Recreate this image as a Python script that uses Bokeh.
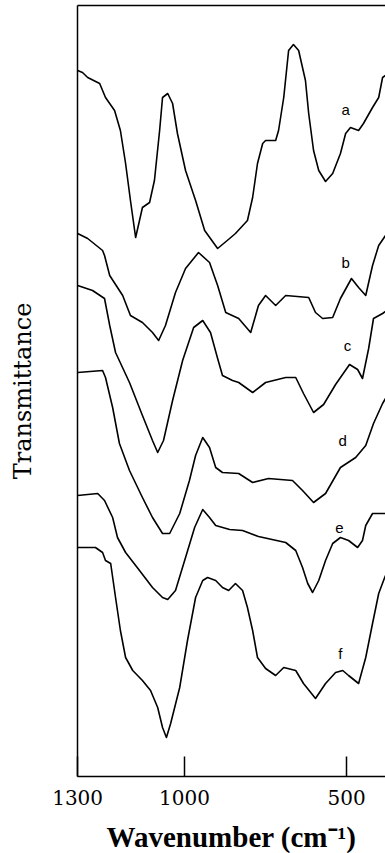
from bokeh.plotting import figure
from bokeh.models import Range1d, FixedTicker, ColumnDataSource, LinearAxis
from bokeh.core.properties import value
from bokeh.embed import file_html
from bokeh.resources import INLINE

# IR spectra, transmittance in arbitrary (stacked) units
wn_a = [1330, 1315, 1299, 1262, 1244, 1216, 1198, 1182, 1167, 1151, 1130, 1108, 1093, 1077, 1068, 1052, 1037,
        1022, 997, 966, 938, 898, 861, 843, 806, 790, 775, 759, 750, 719, 710, 694, 679, 664, 648, 627, 617,
        602, 586, 565, 543, 519, 503, 488, 463, 448, 420, 401, 389, 380]
t_a = [706, 704, 699, 693, 679, 666, 646, 613, 576, 539, 569, 574, 596, 646, 679, 683, 673,
       643, 606, 576, 546, 528, 538, 543, 556, 579, 613, 633, 636, 636, 646, 679, 726, 732, 726, 696, 663,
       626, 606, 595, 603, 623, 643, 649, 646, 653, 669, 679, 699, 701]

wn_b = [1330, 1299, 1253, 1247, 1231, 1191, 1167, 1130, 1099, 1080, 1059, 1028, 997, 957, 923, 898, 873,
        833, 796, 772, 750, 719, 688, 617, 596, 574, 543, 519, 485, 463, 441, 420, 401, 380]
t_b = [543, 538, 526, 521, 501, 481, 461, 454, 444, 436, 451, 484, 508, 524, 514, 491, 464,
       458, 444, 471, 481, 471, 481, 479, 464, 458, 459, 478, 498, 489, 481, 511, 531, 541]

wn_c = [1330, 1284, 1247, 1231, 1213, 1170, 1130, 1099, 1083, 1065, 1037, 1006, 972, 944, 920, 898, 883,
        852, 833, 790, 750, 688, 657, 633, 602, 571, 534, 491, 466, 451, 432, 417, 389, 380]
t_c = [491, 486, 478, 451, 424, 394, 361, 336, 324, 336, 376, 416, 449, 456, 444, 418, 401,
       396, 394, 384, 394, 399, 399, 383, 364, 372, 392, 412, 407, 398, 428, 458, 463, 465]

wn_d = [1330, 1253, 1244, 1222, 1201, 1170, 1130, 1099, 1068, 1046, 1015, 985, 966, 944, 923, 904, 883,
        833, 790, 741, 667, 636, 602, 565, 519, 472, 441, 417, 389, 380]
t_d = [404, 406, 399, 369, 333, 306, 279, 259, 243, 243, 263, 296, 321, 339, 329, 309, 304,
       303, 294, 298, 296, 286, 274, 283, 309, 319, 331, 353, 373, 378]

wn_e = [1330, 1268, 1247, 1222, 1207, 1182, 1139, 1099, 1068, 1052, 1028, 997, 969, 944, 923, 904, 861,
        821, 772, 688, 657, 636, 620, 605, 586, 565, 543, 519, 494, 466, 451, 441, 420, 380]
t_e = [281, 283, 276, 259, 239, 224, 206, 189, 179, 177, 186, 219, 249, 267, 259, 251, 247,
       246, 240, 234, 226, 209, 193, 184, 196, 216, 233, 239, 236, 229, 236, 251, 263, 263]

wn_f = [1330, 1275, 1253, 1244, 1228, 1213, 1198, 1182, 1160, 1130, 1105, 1083, 1068, 1056, 1043, 1015,
        991, 966, 944, 929, 904, 883, 864, 843, 821, 806, 790, 775, 750, 719, 694, 657, 633, 596, 565,
        534, 512, 494, 463, 441, 420, 401, 386, 380]
t_f = [229, 229, 224, 216, 213, 179, 146, 119, 106, 96, 86, 69, 49, 39, 53, 89,
       136, 179, 196, 199, 196, 189, 186, 193, 186, 169, 146, 119, 108, 101, 109, 106, 93, 78, 93,
       104, 106, 101, 93, 119, 153, 183, 196, 201]

curve_names = ["a", "b", "c", "d", "e", "f"]
label_wn = [503, 503, 497, 512, 522, 519]
label_t = [667, 514, 431, 336, 249, 123]

# axis extents (wavenumber and transmittance units) and ticks
wn_max, wn_min = 1330, 380
t_min, t_max = 0, 771
x_ticks = [1330, 1000, 500]
x_tick_text = {1330: "1300", 1000: "1000", 500: "500"}
x_title = "Wavenumber (cm\u207b\u00b9)"
y_title = "Transmittance"

p = figure(width=385, height=853, x_range=Range1d(1568, wn_min), y_range=Range1d(-77, 776),
           output_backend="svg", toolbar_location=None, x_axis_location=None, y_axis_location=None,
           min_border=0, min_border_left=0, min_border_right=0, min_border_top=0, min_border_bottom=0)
p.outline_line_color = None
p.grid.visible = False
p.background_fill_color = "white"
p.border_fill_color = "white"

for wn, t in [(wn_a, t_a), (wn_b, t_b), (wn_c, t_c), (wn_d, t_d), (wn_e, t_e), (wn_f, t_f)]:
    p.line(wn, t, line_color="black", line_width=1.6, line_join="round")

lab_src = ColumnDataSource(dict(x=label_wn, y=label_t, text=curve_names))
p.text(x="x", y="y", text="text", source=lab_src, text_align="center", text_baseline="middle",
       text_font=value("Liberation Sans"), text_font_size="15px", text_color="black")

xa = LinearAxis(fixed_location=t_min, bounds=(wn_min, wn_max), ticker=FixedTicker(ticks=x_ticks))
xa.major_label_overrides = x_tick_text
xa.minor_tick_line_color = None
xa.minor_tick_out = 0
xa.minor_tick_in = 0
xa.major_tick_in = 20
xa.major_tick_out = 0
xa.major_tick_line_width = 1.5
xa.axis_line_width = 1.5
xa.major_label_standoff = 13
xa.major_label_text_font = "DejaVu Serif"
xa.major_label_text_font_size = "20px"
xa.major_label_text_color = "black"
xa.axis_label = x_title
xa.axis_label_text_font = "Liberation Serif"
xa.axis_label_text_font_style = "bold"
xa.axis_label_text_font_size = "29px"
xa.axis_label_text_color = "black"
xa.axis_label_standoff = 13
p.add_layout(xa, "below")

ya = LinearAxis(fixed_location=wn_max, bounds=(t_min, t_max), ticker=FixedTicker(ticks=[]))
ya.minor_tick_line_color = None
ya.minor_tick_out = 0
ya.minor_tick_in = 0
ya.major_tick_in = 0
ya.major_tick_out = 0
ya.major_label_standoff = 0
ya.axis_line_width = 1.5
ya.axis_label = y_title
ya.axis_label_text_font = "DejaVu Serif"
ya.axis_label_text_font_style = "normal"
ya.axis_label_text_font_size = "24px"
ya.axis_label_text_color = "black"
ya.axis_label_standoff = 41
p.add_layout(ya, "left")

top = LinearAxis(fixed_location=t_max, bounds=(wn_min, wn_max), ticker=FixedTicker(ticks=[]))
top.minor_tick_line_color = None
top.minor_tick_out = 0
top.minor_tick_in = 0
top.major_tick_out = 0
top.major_tick_in = 0
top.major_label_text_font_size = "0px"
top.axis_line_width = 1.5
p.add_layout(top, "above")

open("out.html", "w").write(file_html(p, INLINE))
